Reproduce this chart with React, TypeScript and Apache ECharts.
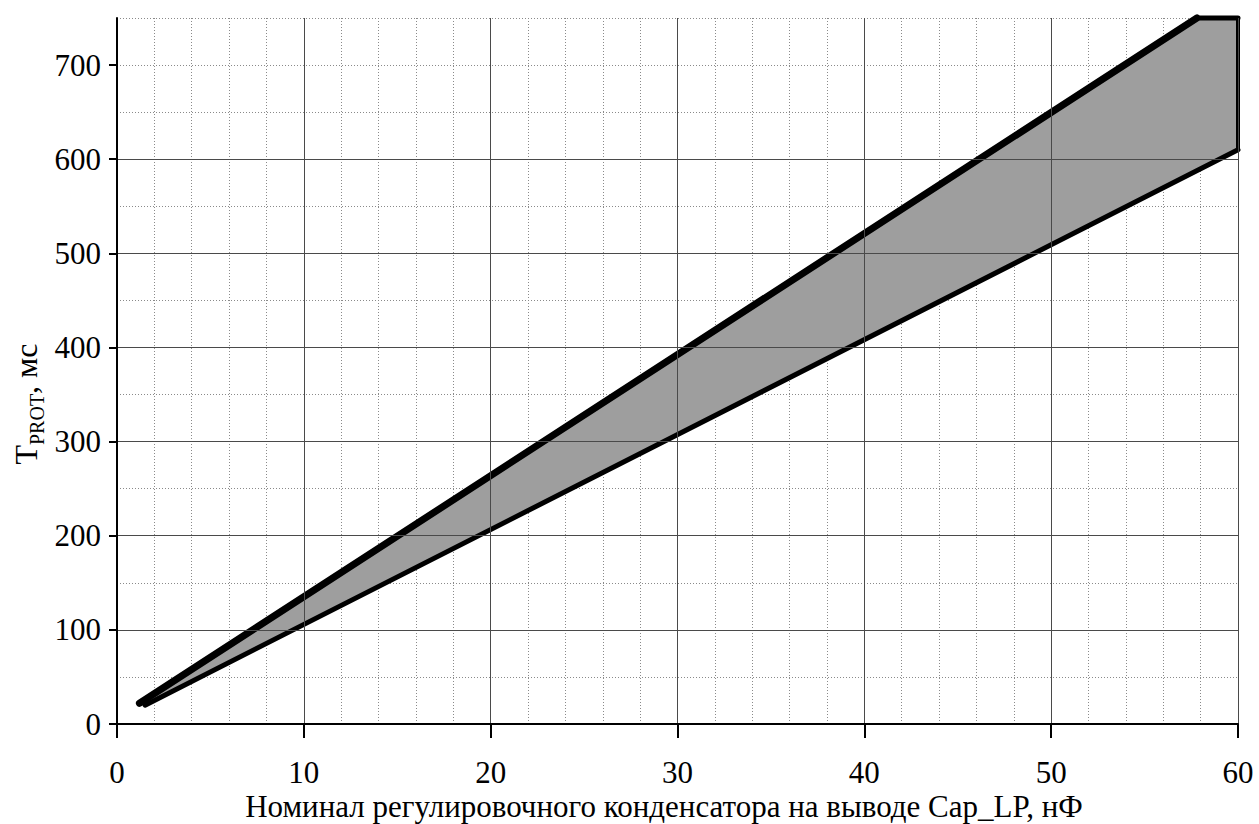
import React, { useEffect, useRef } from "react";
import * as echarts from "echarts";

const xTicks = [0, 10, 20, 30, 40, 50, 60];
const yTicks = [0, 100, 200, 300, 400, 500, 600, 700];
// upper boundary of the T_PROT band (x in нФ, y in мс), clipped at 750
const upperLine: [number, number][] = [
  [1.2, 22],
  [57.8, 750],
];
// lower boundary of the band
const lowerLine: [number, number][] = [
  [1.5, 20],
  [60, 610],
];
const yMax = 750;
const xMax = 60;
const xName = "Номинал регулировочного конденсатора на выводе Cap_LP, нФ";

const FONT = "Liberation Serif";

export default function App() {
  const ref = useRef<HTMLDivElement>(null);
  useEffect(() => {
    if (!ref.current) return;
    const chart = echarts.init(ref.current, null, { renderer: "svg" });
    const topEdge: [number, number][] = [upperLine[upperLine.length - 1], [xMax, yMax]];
    const rightEdge: [number, number][] = [[xMax, yMax], lowerLine[lowerLine.length - 1]];
    const polygon = [...upperLine, [xMax, yMax] as [number, number], ...lowerLine.slice().reverse()];
    chart.setOption({
      animation: false,
      backgroundColor: "#fff",
      grid: { left: 117, right: 21, top: 18, bottom: 100, containLabel: false },
      graphic: [
        {
          type: "text",
          x: 26,
          y: 404,
          rotation: Math.PI / 2,
          z: 10,
          style: {
            text: "{t|T}{s|PROT}{t|, мс}",
            align: "center",
            verticalAlign: "middle",
            fill: "#000",
            rich: {
              t: { fontFamily: FONT, fontSize: 32, fill: "#000", lineHeight: 32, verticalAlign: "middle" },
              s: { fontFamily: FONT, fontSize: 20, fill: "#000", lineHeight: 42, verticalAlign: "bottom" },
            },
          },
        },
        {
          type: "text",
          x: 664,
          y: 806,
          z: 10,
          style: {
            text: xName,
            align: "center",
            verticalAlign: "middle",
            fill: "#000",
            fontFamily: FONT,
            fontSize: 31,
          },
        },
      ],
      xAxis: [
        {
          type: "value",
          min: 0,
          max: xMax,
          interval: 10,
          axisLine: { show: true, onZero: false, lineStyle: { color: "#000", width: 2 } },
          axisTick: { show: true, inside: false, length: 14, lineStyle: { color: "#000", width: 2 }, customValues: xTicks },
          axisLabel: { color: "#000", fontFamily: FONT, fontSize: 31, margin: 33, customValues: xTicks },
          splitLine: { show: true, lineStyle: { color: "#4a4a4a", width: 1, type: "solid" } },
          z: 5,
        },
        {
          type: "value",
          min: 0,
          max: xMax,
          interval: 2,
          position: "bottom",
          axisLine: { show: false },
          axisTick: { show: false },
          axisLabel: { show: false },
          splitLine: { show: true, lineStyle: { color: "#8a8a8a", width: 1, type: [1, 2] } },
          z: 1,
        },
      ],
      yAxis: [
        {
          type: "value",
          min: 0,
          max: yMax,
          interval: 100,
          axisLine: { show: true, onZero: false, lineStyle: { color: "#000", width: 2 } },
          axisTick: { show: true, length: 8, lineStyle: { color: "#000", width: 2 }, customValues: yTicks },
          axisLabel: { color: "#000", fontFamily: FONT, fontSize: 31, margin: 16, customValues: yTicks },
          splitLine: { show: true, showMaxLine: false, lineStyle: { color: "#4a4a4a", width: 1, type: "solid" } },
          z: 5,
        },
        {
          type: "value",
          min: 0,
          max: yMax,
          interval: 50,
          position: "left",
          axisLine: { show: false },
          axisTick: { show: false },
          axisLabel: { show: false },
          splitLine: { show: true, lineStyle: { color: "#8a8a8a", width: 1, type: [1, 2] } },
          z: 1,
        },
      ],
      series: [
        {
          type: "custom",
          xAxisIndex: 0,
          yAxisIndex: 0,
          data: [polygon[0]],
          z: 3,
          renderItem: (params: any, api: any) => {
            if (params.dataIndex !== 0) return null;
            const c = (arr: [number, number][]) => arr.map((p) => api.coord(p));
            return {
              type: "group",
              children: [
                {
                  type: "polygon",
                  shape: { points: c(polygon) },
                  style: { fill: "#9e9e9e", stroke: "none" },
                },
                {
                  type: "polyline",
                  shape: { points: c(lowerLine) },
                  style: { fill: "none", stroke: "#000", lineWidth: 5, lineCap: "round" },
                },
                {
                  type: "polyline",
                  shape: { points: c(upperLine) },
                  style: { fill: "none", stroke: "#000", lineWidth: 7, lineCap: "round" },
                },
                {
                  type: "polyline",
                  shape: { points: c(topEdge) },
                  style: { fill: "none", stroke: "#000", lineWidth: 5, lineCap: "round" },
                },
                {
                  type: "polyline",
                  shape: { points: c(rightEdge) },
                  style: { fill: "none", stroke: "#000", lineWidth: 4, lineCap: "round" },
                },
              ],
            };
          },
        },
      ],
    });
    return () => chart.dispose();
  }, []);
  return (
    <div
      ref={ref}
      style={{ position: "absolute", left: 0, top: 0, width: 1259, height: 824, background: "#fff" }}
    />
  );
}
